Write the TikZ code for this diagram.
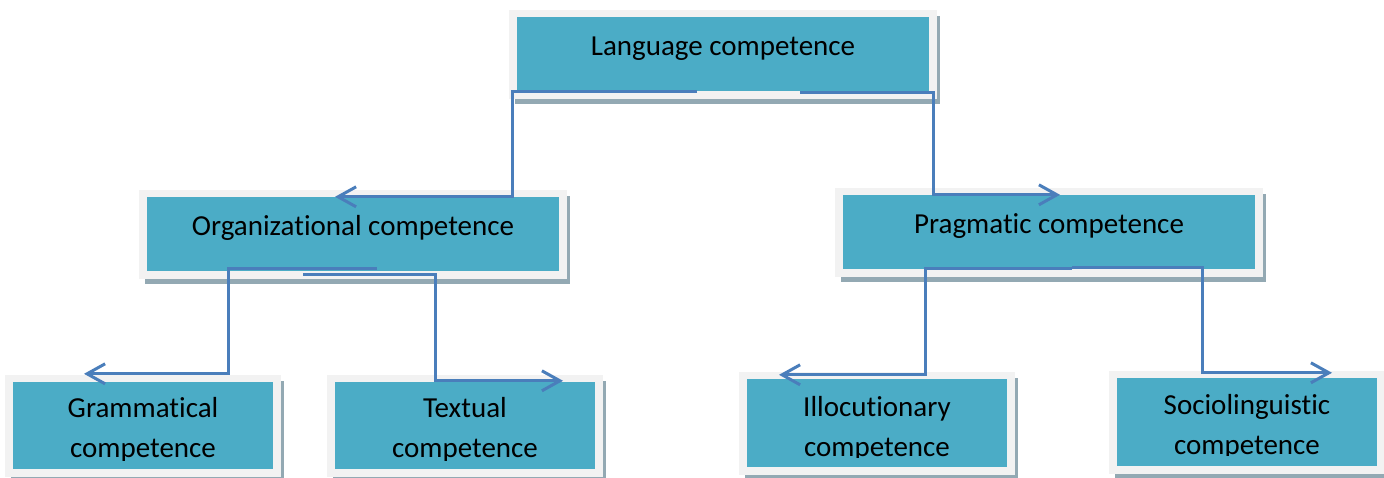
\documentclass[tikz,border=0pt]{standalone}
\usepackage{fontspec}
\setmainfont[Ligatures={NoCommon}]{Carlito}
\usetikzlibrary{arrows.meta,backgrounds}
\definecolor{tealfill}{HTML}{4BACC6}
\definecolor{framegray}{HTML}{F2F2F2}
\definecolor{shadowgray}{HTML}{93A9B3}
\definecolor{connblue}{HTML}{4A7EBB}
\newcommand\cframe[1]{%
  \fill[shadowgray] ([shift={(-2,-1)}]#1.north west) rectangle ([shift={(11,13)}]#1.south east);
  \fill[framegray] ([shift={(-8,-7)}]#1.north west) rectangle ([shift={(8,8)}]#1.south east);
}
\begin{document}
\begin{tikzpicture}[x=1pt,y=-1pt,
  tealbox/.style={rectangle, fill=tealfill, draw=none, inner sep=0pt},
  bigbox/.style={tealbox, minimum width=412pt, minimum height=74pt},
  smallbox/.style={tealbox, minimum width=260pt, minimum height=88pt},
  lbl/.style={inner sep=0pt, align=center, font=\fontsize{29}{40}\selectfont, text=black},
  conn/.style={draw=connblue, line width=3pt, -{Straight Barb[length=18pt,width=20pt]}}]
\useasboundingbox (0,0) rectangle (1384,477);
% boxes
\node[bigbox] (lang) at (723,54) {};
\node[bigbox] (org) at (353,234) {};
\node[bigbox] (prag) at (1049,232) {};
\node[smallbox, minimum height=87pt] (gram) at (143,425.5) {};
\node[smallbox, minimum height=87pt] (text) at (465,425.5) {};
\node[smallbox] (illo) at (877,423) {};
\node[smallbox] (socio) at (1247,422) {};
\begin{scope}[on background layer]
  \fill[white] (0,0) rectangle (1384,477);
  \cframe{lang}
  \cframe{org}
  \cframe{prag}
  \cframe{gram}
  \cframe{text}
  \cframe{illo}
  \cframe{socio}
\end{scope}
% labels
\node[lbl, anchor=base] (langtxt) at ([yshift=-1]lang.center) {Language competence};
\node[lbl, anchor=base] (orgtxt) at ([yshift=-1]org.center) {Organizational competence};
\node[lbl, anchor=base] (pragtxt) at ([yshift=-1]prag.center) {Pragmatic competence};
\begin{scope}
  \clip (gram.north west) rectangle ([yshift=9]gram.south east);
  \node[lbl, anchor=base] (gramtxt) at ([yshift=-76]gram.north) {Grammatical\\competence};
\end{scope}
\begin{scope}
  \clip (text.north west) rectangle ([yshift=9]text.south east);
  \node[lbl, anchor=base] (texttxt) at ([yshift=-76]text.north) {Textual\\competence};
\end{scope}
\begin{scope}
  \clip (illo.north west) rectangle ([yshift=10]illo.south east);
  \node[lbl, anchor=base] (illotxt) at ([yshift=-78]illo.north) {Illocutionary\\competence};
\end{scope}
\begin{scope}
  \clip (socio.north west) rectangle ([yshift=11]socio.south east);
  \node[lbl, anchor=base] (sociotxt) at ([yshift=-77]socio.north) {Sociolinguistic\\competence};
\end{scope}
% connectors
\draw[conn] ([xshift=-26]lang.south) -| ([xshift=159]org.north) -- ([xshift=-18]org.north);
\draw[conn] ([xshift=77,yshift=-1]lang.south) -| ([xshift=-116]prag.north) -- ([xshift=11]prag.north);
\draw[conn] ([xshift=24,yshift=3]org.south) -| ([xshift=85,yshift=8]gram.north) -- ([xshift=-59,yshift=8]gram.north);
\draw[conn] ([xshift=-50,yshift=-3]org.south) -| ([xshift=-30,yshift=1]text.north) -- ([xshift=98,yshift=1]text.north);
\draw[conn] ([xshift=23,yshift=1]prag.south) -| ([xshift=48,yshift=4]illo.north) -- ([xshift=-98,yshift=4]illo.north);
\draw[conn] ([xshift=23,yshift=2]prag.south) -| ([xshift=-45,yshift=5]socio.north) -- ([xshift=85,yshift=5]socio.north);
\end{tikzpicture}
\end{document}
